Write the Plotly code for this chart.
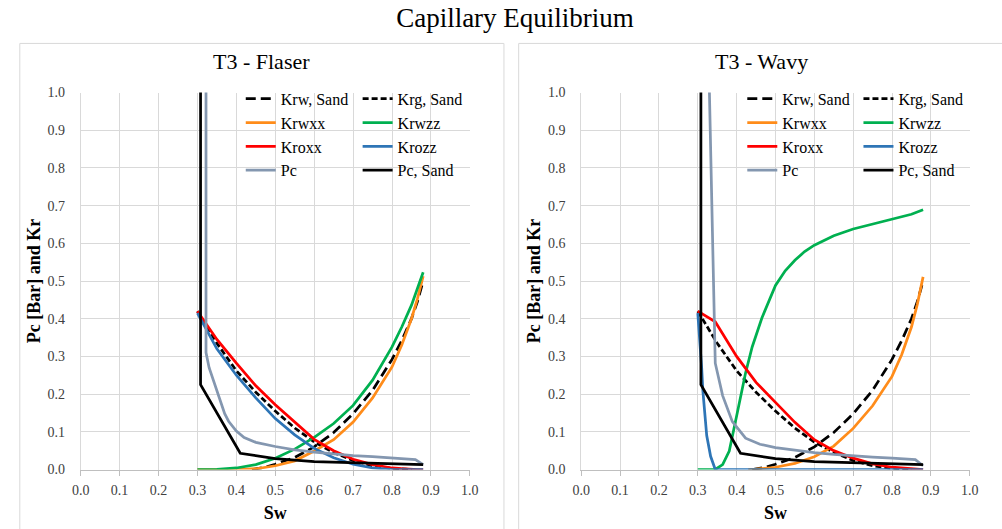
import plotly.graph_objects as go

FONT = "Liberation Serif, Times New Roman, serif"

# ---------------- data ----------------
# Sand reference curves (same in both panels)
sw_krw_sand = [0.44, 0.47, 0.50, 0.55, 0.60, 0.65, 0.70, 0.75, 0.80, 0.825, 0.85, 0.865, 0.88]
krw_sand = [0.0, 0.005, 0.014, 0.032, 0.060, 0.098, 0.148, 0.210, 0.292, 0.342, 0.400, 0.445, 0.500]

sw_krg_sand = [0.30, 0.35, 0.40, 0.45, 0.50, 0.55, 0.60, 0.65, 0.70, 0.75, 0.80, 0.85]
krg_sand = [0.420, 0.335, 0.262, 0.205, 0.155, 0.110, 0.073, 0.045, 0.024, 0.010, 0.003, 0.0]

sw_pc_sand = [0.308, 0.308, 0.41, 0.45, 0.50, 0.60, 0.70, 0.80, 0.88]
pc_sand = [1.5, 0.225, 0.043, 0.036, 0.029, 0.021, 0.018, 0.015, 0.013]

# T3 - Flaser
sw_flaser = [0.30, 0.35, 0.40, 0.45, 0.50, 0.55, 0.60, 0.65, 0.70, 0.75, 0.80, 0.825, 0.85, 0.865, 0.88]
krwxx_flaser = [0.0, 0.0, 0.0, 0.002, 0.010, 0.023, 0.049, 0.079, 0.126, 0.190, 0.272, 0.330, 0.400, 0.452, 0.513]
krwzz_flaser = [0.0, 0.0005, 0.004, 0.013, 0.030, 0.054, 0.085, 0.122, 0.170, 0.237, 0.325, 0.378, 0.436, 0.477, 0.523]
kroxx_flaser = [0.420, 0.345, 0.282, 0.222, 0.172, 0.125, 0.080, 0.050, 0.027, 0.013, 0.004, 0.002, 0.0, 0.0, 0.0]
krozz_flaser = [0.415, 0.320, 0.250, 0.190, 0.135, 0.092, 0.056, 0.031, 0.014, 0.004, 0.0, 0.0, 0.0, 0.0, 0.0]
sw_pc_flaser = [0.322, 0.322, 0.33, 0.345, 0.36, 0.37, 0.38, 0.40, 0.42, 0.45, 0.50, 0.55,
                0.60, 0.65, 0.70, 0.75, 0.80, 0.86, 0.88]
pc_flaser = [1.5, 0.310, 0.270, 0.225, 0.180, 0.148, 0.128, 0.102, 0.085, 0.072, 0.061, 0.052,
             0.046, 0.041, 0.037, 0.034, 0.031, 0.026, 0.013]

# T3 - Wavy
sw_krwxx_wavy = [0.43, 0.45, 0.50, 0.55, 0.60, 0.65, 0.70, 0.75, 0.80, 0.825, 0.85, 0.865, 0.88]
krwxx_wavy = [0.0, 0.001, 0.006, 0.016, 0.034, 0.062, 0.109, 0.169, 0.247, 0.305, 0.378, 0.438, 0.511]
sw_krwzz_wavy = [0.30, 0.345, 0.364, 0.381, 0.402, 0.423, 0.44, 0.465, 0.50, 0.525, 0.55, 0.575,
                 0.60, 0.65, 0.70, 0.75, 0.80, 0.85, 0.88]
krwzz_wavy = [0.0, 0.0, 0.013, 0.049, 0.152, 0.256, 0.325, 0.402, 0.488, 0.527, 0.555, 0.578,
              0.595, 0.620, 0.638, 0.651, 0.663, 0.677, 0.689]
sw_kroxx_wavy = [0.30, 0.345, 0.40, 0.45, 0.50, 0.55, 0.60, 0.65, 0.70, 0.75, 0.80, 0.85, 0.88]
kroxx_wavy = [0.420, 0.392, 0.300, 0.231, 0.178, 0.125, 0.079, 0.050, 0.030, 0.015, 0.006, 0.001, 0.0]
sw_krozz_wavy = [0.30, 0.306, 0.31, 0.313, 0.318, 0.323, 0.333, 0.345, 0.40, 0.50, 0.60, 0.70, 0.80, 0.88]
krozz_wavy = [0.415, 0.340, 0.270, 0.210, 0.140, 0.090, 0.035, 0.0, 0.0, 0.0, 0.0, 0.0, 0.0, 0.0]
sw_pc_wavy = [0.3258, 0.345, 0.364, 0.389, 0.423, 0.46, 0.50, 0.55, 0.60, 0.65, 0.70, 0.75, 0.80, 0.86, 0.88]
pc_wavy = [1.2, 0.282, 0.196, 0.127, 0.083, 0.067, 0.058, 0.051, 0.045, 0.040, 0.036, 0.033, 0.030, 0.026, 0.010]

x_ticks = [0.0, 0.1, 0.2, 0.3, 0.4, 0.5, 0.6, 0.7, 0.8, 0.9, 1.0]
y_ticks = [0.0, 0.1, 0.2, 0.3, 0.4, 0.5, 0.6, 0.7, 0.8, 0.9, 1.0]

# ---------------- styles ----------------
C_ORANGE = "#FF8C1A"
C_GREEN = "#00B050"
C_RED = "#FF0000"
C_BLUE = "#2E75B6"
C_PC = "#8497B0"
C_BLACK = "#000000"
LW = 2.75

panels = [
    dict(xa="x", ya="y", legs=("legend", "legend2"),
         krwxx=(sw_flaser, krwxx_flaser), krwzz=(sw_flaser, krwzz_flaser),
         kroxx=(sw_flaser, kroxx_flaser), krozz=(sw_flaser, krozz_flaser),
         pc=(sw_pc_flaser, pc_flaser)),
    dict(xa="x2", ya="y2", legs=("legend3", "legend4"),
         krwxx=(sw_krwxx_wavy, krwxx_wavy), krwzz=(sw_krwzz_wavy, krwzz_wavy),
         kroxx=(sw_kroxx_wavy, kroxx_wavy), krozz=(sw_krozz_wavy, krozz_wavy),
         pc=(sw_pc_wavy, pc_wavy)),
]

fig = go.Figure()
for p in panels:
    colA, colB = p["legs"]
    series = [
        ("Krw, Sand", (sw_krw_sand, krw_sand), C_BLACK, "10px,5px", colA),
        ("Krg, Sand", (sw_krg_sand, krg_sand), C_BLACK, "6px,3px", colB),
        ("Krwxx", p["krwxx"], C_ORANGE, "solid", colA),
        ("Krwzz", p["krwzz"], C_GREEN, "solid", colB),
        ("Kroxx", p["kroxx"], C_RED, "solid", colA),
        ("Krozz", p["krozz"], C_BLUE, "solid", colB),
        ("Pc", p["pc"], C_PC, "solid", colA),
        ("Pc, Sand", (sw_pc_sand, pc_sand), C_BLACK, "solid", colB),
    ]
    for name, (xs, ys), col, dash, leg in series:
        fig.add_trace(go.Scatter(
            x=xs, y=ys, name=name, mode="lines",
            line=dict(color=col, width=LW, dash=dash),
            xaxis=p["xa"], yaxis=p["ya"], legend=leg,
        ))

W, H = 1002, 529
ydom = [1 - 476 / H, 1 - 88 / H]

def xaxis(dom):
    return dict(
        domain=dom, range=[0, 1], tickvals=x_ticks, tickformat=".1f",
        showgrid=True, gridcolor="#D9D9D9", gridwidth=1, zeroline=False,
        showline=True, linecolor="#BFBFBF", linewidth=1,
        ticks="outside", ticklen=5, tickcolor="#BFBFBF", ticklabelstandoff=3,
        tickfont=dict(family=FONT, size=14, color="#404040"),
        title=dict(text="<b>Sw</b>", font=dict(family=FONT, size=18, color="#000000"), standoff=9),
        fixedrange=True,
    )

def yaxis(dom, anchor):
    return dict(
        domain=dom, range=[0, 1], tickvals=y_ticks, tickformat=".1f", anchor=anchor,
        showgrid=True, gridcolor="#D9D9D9", gridwidth=1, zeroline=False,
        showline=True, linecolor="#D9D9D9", linewidth=1,
        ticks="", ticklabelstandoff=12,
        tickfont=dict(family=FONT, size=14, color="#404040"),
        title=dict(text="<b>Pc [Bar] and Kr</b>", font=dict(family=FONT, size=18, color="#000000"), standoff=2),
        fixedrange=True,
    )

def legend(xpx):
    return dict(
        x=xpx / W, y=1 - 77 / H, xanchor="left", yanchor="top",
        orientation="v", tracegroupgap=0,
        bgcolor="rgba(0,0,0,0)", borderwidth=0,
        font=dict(family=FONT, size=16, color="#000000"),
        itemclick=False, itemdoubleclick=False,
    )

fig.update_layout(
    width=W, height=H, margin=dict(l=0, r=0, t=0, b=0),
    paper_bgcolor="white", plot_bgcolor="white",
    font=dict(family=FONT, color="#000000"),
    xaxis=xaxis([73 / W, 469.3 / W]),
    yaxis=yaxis(ydom, "x"),
    xaxis2=xaxis([582.7 / W, 978.3 / W]),
    yaxis2=yaxis(ydom, "x2"),
    legend=legend(236),
    legend2=legend(355),
    legend3=legend(746.7),
    legend4=legend(865),
    title=dict(text="Capillary Equilibrium", x=515 / W, y=1 - 18 / H,
               xanchor="center", yanchor="middle",
               font=dict(family=FONT, size=27, color="#000000")),
    annotations=[
        dict(text="T3 - Flaser", x=257.5 / W, y=1 - 56 / H, xref="paper", yref="paper",
             showarrow=False, xanchor="center", yanchor="middle",
             font=dict(family=FONT, size=22, color="#000000")),
        dict(text="T3 - Wavy", x=766.5 / W, y=1 - 56 / H, xref="paper", yref="paper",
             showarrow=False, xanchor="center", yanchor="middle",
             font=dict(family=FONT, size=22, color="#000000")),
    ],
    shapes=[
        dict(type="rect", xref="paper", yref="paper", x0=11 / W, x1=504 / W,
             y0=-0.2, y1=1 - 37.5 / H, line=dict(color="#D9D9D9", width=1), layer="below"),
        dict(type="rect", xref="paper", yref="paper", x0=519 / W, x1=1.05,
             y0=-0.2, y1=1 - 37.5 / H, line=dict(color="#D9D9D9", width=1), layer="below"),
    ],
    showlegend=True,
)

fig.write_html("out.html")
